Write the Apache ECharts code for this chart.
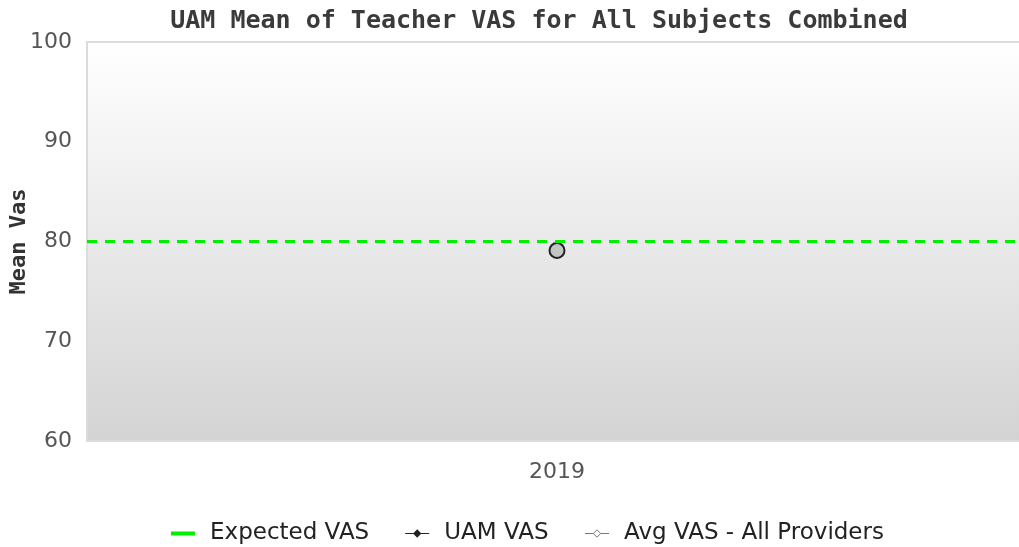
<!DOCTYPE html>
<html>
<head>
<meta charset="utf-8">
<script src="https://cdn.jsdelivr.net/npm/echarts@6/dist/echarts.min.js"></script>
<style>
    html, body { margin: 0; padding: 0; background: #fff; }
    #chart { width: 1019px; height: 547px; }
</style>
</head>
<body>
<div id="chart"></div>
<script>
    var years = ['2019'];
    var uamVas = [79.4];
    var avgVas = [79.1];
    var expectedVas = 80;
    var yTicks = [60, 70, 80, 90, 100];

    var myChart = echarts.init(document.getElementById('chart'));
    var option = {
        animation: false,
        title: {
            text: 'UAM Mean of Teacher VAS for All Subjects Combined',
            left: 534,
            textAlign: 'center',
            top: 4,
            textStyle: {
                fontFamily: 'DejaVu Sans Mono',
                fontWeight: 'bold',
                fontSize: 25,
                color: '#3a3a3a'
            }
        },
        legend: {
            top: 517,
            left: 166,
            itemWidth: 24,
            itemHeight: 10,
            itemGap: 36,
            textStyle: { fontFamily: 'DejaVu Sans', fontSize: 23, color: '#222', padding: [0, 0, 0, 10] },
            data: [
                {
                    name: 'Expected VAS',
                    icon: 'path://M0,0h24v4h-24z',
                    itemStyle: { color: '#00ee00' }
                },
                {
                    name: 'UAM VAS',
                    icon: 'path://M0,4.5h9l4,-4l4,4h9v1h-9l-4,4l-4,-4h-9z',
                    itemStyle: { color: '#222' }
                },
                {
                    name: 'Avg VAS - All Providers',
                    icon: 'path://M0,5h9l4,-4l4,4l-4,4l-4,-4M17,5h9',
                    itemStyle: { color: 'rgba(0,0,0,0)', borderColor: '#777', borderWidth: 1 }
                }
            ]
        },
        grid: {
            left: 87,
            right: -8,
            top: 42,
            bottom: 106,
            outerBoundsMode: 'none',
            show: true,
            borderColor: '#dcdcdc',
            borderWidth: 2,
            backgroundColor: new echarts.graphic.LinearGradient(0, 0, 0, 1, [
                { offset: 0, color: '#ffffff' },
                { offset: 1, color: '#d3d3d3' }
            ])
        },
        xAxis: {
            type: 'category',
            data: years,
            axisLine: { show: false },
            axisTick: { show: false },
            axisLabel: { fontFamily: 'DejaVu Sans', fontSize: 22, color: '#555', margin: 20 }
        },
        yAxis: {
            type: 'value',
            min: yTicks[0],
            max: yTicks[yTicks.length - 1],
            interval: 10,
            name: 'Mean Vas',
            nameLocation: 'middle',
            nameGap: 57,
            nameMoveOverlap: false,
            nameTextStyle: { fontFamily: 'DejaVu Sans Mono', fontWeight: 'bold', fontSize: 22, color: '#333' },
            axisLine: { show: false },
            axisTick: { show: false },
            splitLine: { show: false },
            axisLabel: { fontFamily: 'DejaVu Sans', fontSize: 22, color: '#555', margin: 15 }
        },
        series: [
            {
                name: 'Expected VAS',
                type: 'line',
                data: [],
                symbol: 'none',
                itemStyle: { color: '#00ee00' },
                lineStyle: { color: '#00ee00', width: 4 },
                markLine: {
                    silent: true,
                    symbol: 'none',
                    label: { show: false },
                    lineStyle: { color: '#00ee00', type: [10, 8], width: 3 },
                    data: [{ yAxis: expectedVas }]
                }
            },
            {
                name: 'UAM VAS',
                type: 'line',
                data: uamVas,
                symbol: 'diamond',
                symbolSize: 9,
                itemStyle: { color: '#111' },
                lineStyle: { color: '#444', width: 1 }
            },
            {
                name: 'Avg VAS - All Providers',
                type: 'line',
                data: avgVas,
                symbol: 'circle',
                symbolSize: 15,
                itemStyle: { color: '#c4c4c4', borderColor: '#222', borderWidth: 2 },
                lineStyle: { color: '#888', width: 1 }
            }
        ]
    };
    myChart.setOption(option);
</script>
</body>
</html>
